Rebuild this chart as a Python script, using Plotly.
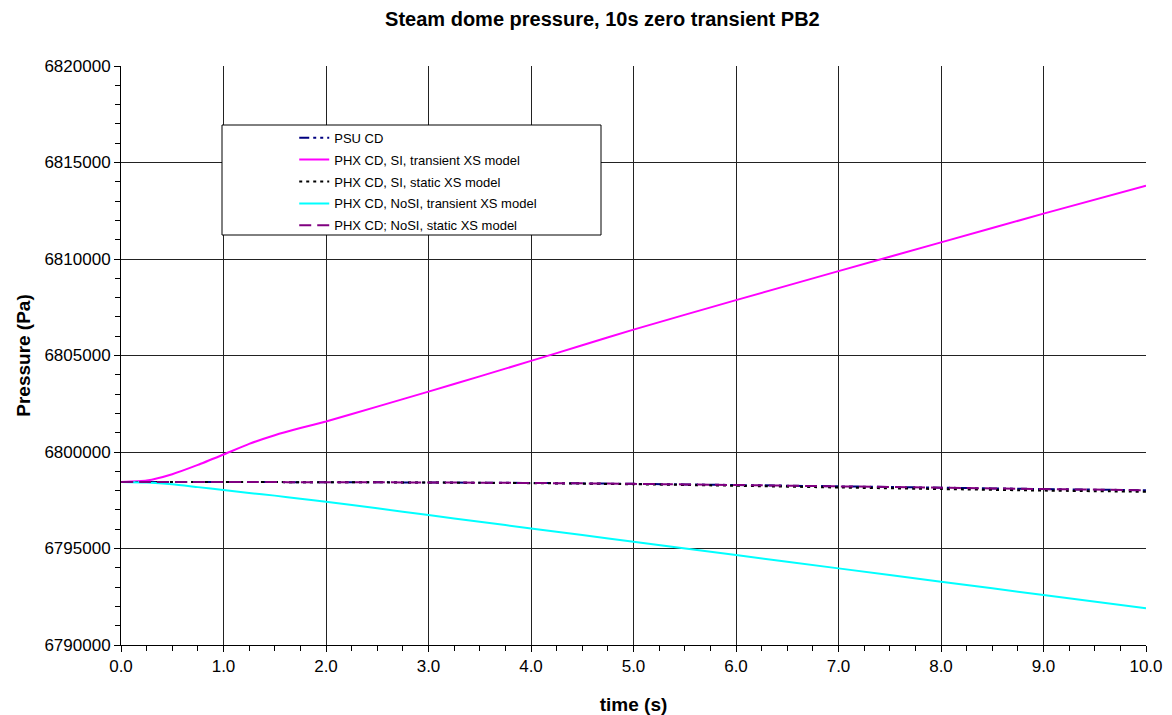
import plotly.graph_objects as go

# Time axis (s)
time_s = [0.0, 0.25, 0.5, 0.75, 1.0, 1.25, 1.5, 1.75, 2.0, 2.5, 3.0, 3.5,
          4.0, 4.5, 5.0, 6.0, 7.0, 8.0, 9.0, 10.0]

# Steam dome pressure (Pa) for each calculation
psu_cd = [6798450, 6798450, 6798448, 6798446, 6798444, 6798442, 6798440, 6798438,
          6798435, 6798430, 6798422, 6798410, 6798395, 6798375, 6798350, 6798290,
          6798220, 6798150, 6798080, 6798020]
phx_si_transient = [6798450, 6798520, 6798850, 6799330, 6799870, 6800420, 6800870,
                    6801240, 6801580, 6802350, 6803130, 6803920, 6804720, 6805530,
                    6806340, 6807870, 6809370, 6810860, 6812350, 6813800]
phx_si_static = [6798450, 6798450, 6798448, 6798446, 6798444, 6798442, 6798440, 6798438,
                 6798435, 6798428, 6798418, 6798402, 6798385, 6798360, 6798330, 6798250,
                 6798160, 6798080, 6798000, 6797940]
phx_nosi_transient = [6798450, 6798420, 6798330, 6798180, 6798030, 6797880, 6797740,
                      6797580, 6797420, 6797080, 6796730, 6796390, 6796040, 6795700,
                      6795350, 6794660, 6793970, 6793280, 6792590, 6791900]
phx_nosi_static = [6798450, 6798450, 6798448, 6798446, 6798444, 6798442, 6798440, 6798438,
                   6798435, 6798430, 6798422, 6798410, 6798395, 6798375, 6798350, 6798290,
                   6798220, 6798150, 6798080, 6798020]

series = [
    ("PSU CD", psu_cd, "#000080", "10px,4px,3px,4px,3px,4px"),
    ("PHX CD, SI, transient XS model", phx_si_transient, "#FF00FF", "solid"),
    ("PHX CD, SI, static XS model", phx_si_static, "#000000", "3px,4px"),
    ("PHX CD, NoSI, transient XS model", phx_nosi_transient, "#00FFFF", "solid"),
    ("PHX CD; NoSI, static XS model", phx_nosi_static, "#800080", "12px,6px"),
]

fig = go.Figure()
for i, (name, values, color, dash) in enumerate(series):
    fig.add_trace(go.Scatter(
        x=time_s, y=values, name=name, mode="lines", legendgroup=f"g{i}",
        line=dict(color=color, width=2, dash=dash, shape="spline", smoothing=0.5),
    ))

font = "Liberation Sans, Arial, sans-serif"

fig.update_layout(
    width=1172, height=715,
    margin=dict(l=121, r=26, t=66, b=70),
    paper_bgcolor="white", plot_bgcolor="white",
    font=dict(family=font, size=17, color="black"),
    title=dict(text="<b>Steam dome pressure, 10s zero transient PB2</b>",
               x=0.514, xanchor="center", y=0.973, yanchor="middle",
               font=dict(size=20)),
    xaxis=dict(
        range=[0, 10], dtick=1, tick0=0, tickformat=".1f", automargin=False,
        showgrid=True, gridcolor="#222222", gridwidth=1,
        showline=True, linecolor="black", linewidth=1,
        ticks="outside", ticklen=6, tickcolor="black",
        minor=dict(dtick=0.25, ticks="outside", ticklen=5, tickcolor="black", showgrid=False),
        zeroline=False,
        title=dict(text="<b>time (s)</b>", font=dict(size=19), standoff=22),
    ),
    yaxis=dict(
        range=[6790000, 6820000], dtick=5000, tick0=6790000, tickformat="d", automargin=False,
        showgrid=True, gridcolor="#222222", gridwidth=1,
        showline=True, linecolor="black", linewidth=1,
        ticks="outside", ticklen=6, tickcolor="black",
        minor=dict(dtick=1000, ticks="outside", ticklen=5, tickcolor="black", showgrid=False),
        zeroline=False,
        title=dict(text="<b>Pressure (Pa)</b>", font=dict(size=19), standoff=8),
    ),
    legend=dict(
        x=0.169, y=0.902, xanchor="left", yanchor="top",
        bgcolor="rgba(0,0,0,0)", borderwidth=0,
        font=dict(size=13), tracegroupgap=2, itemwidth=30,
    ),
    shapes=[dict(
        type="rect", xref="paper", yref="paper", layer="above",
        x0=(222 - 121) / 1025, x1=(601 - 121) / 1025,
        y0=(645 - 235) / 579, y1=(645 - 125) / 579,
        fillcolor="white", line=dict(color="black", width=1),
    )],
)

fig.write_html("out.html")
